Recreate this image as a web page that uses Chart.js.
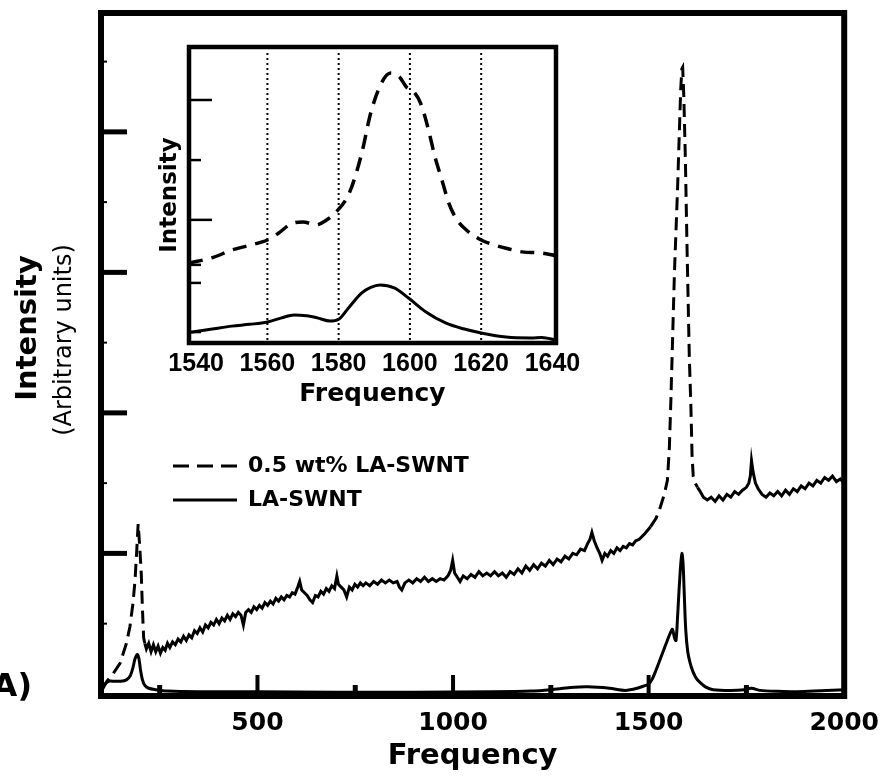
<!DOCTYPE html>
<html>
<head>
<meta charset="utf-8">
<script src="https://cdn.jsdelivr.net/npm/chart.js@4.4.1/dist/chart.umd.min.js"></script>
<style>
  html, body { margin: 0; padding: 0; background: #fff; }
  #wrap { position: relative; width: 891px; height: 778px; }
  #main { position: absolute; left: 0; top: 0; }
  #inset { position: absolute; left: 100px; top: 20px; }
</style>
</head>
<body>
<div id="wrap">
  <canvas id="main" width="891" height="778"></canvas>
  <canvas id="inset" width="500" height="400"></canvas>
</div>
<script>
// ---- data: [frequency, intensity] ----
const seriesLabels = ['0.5 wt% LA-SWNT', 'LA-SWNT'];

const dashedMain = [
  [103,0.03],[115,0.09],[130,0.14],[149,0.22],[165,0.36],[174,0.48],[182,0.65],[187,0.81],
  [191,1.0],[195,1.21],[199,1.05],[203,0.85],[206,0.6],[209,0.40],
  [212,0.36],[216,0.32],[222,0.36],[228,0.30],[234,0.35],[240,0.30],[246,0.34],[252,0.29],
  [258,0.33],[264,0.31],[270,0.36],[276,0.33],[283,0.37],[290,0.35],[297,0.39],[304,0.37],
  [311,0.41],[318,0.38],[325,0.42],[332,0.40],[339,0.45],[346,0.43],[353,0.47],[360,0.44],
  [367,0.49],[374,0.47],[381,0.51],[388,0.49],[395,0.53],[402,0.50],[409,0.54],[416,0.52],
  [423,0.56],[430,0.53],[437,0.57],[444,0.55],[451,0.58],[458,0.56],[464,0.49],[470,0.58],
  [477,0.60],[484,0.58],[491,0.62],[498,0.60],[505,0.63],[512,0.61],[519,0.65],[526,0.63],
  [533,0.66],[540,0.64],[547,0.68],[554,0.66],[561,0.69],[568,0.67],[575,0.70],[582,0.69],
  [589,0.72],[596,0.71],[603,0.76],[608,0.80],[613,0.74],[620,0.72],[627,0.70],[634,0.67],
  [641,0.65],[648,0.70],[655,0.69],[662,0.73],[669,0.71],[676,0.75],[683,0.73],[690,0.77],
  [697,0.75],[703,0.84],[707,0.78],[714,0.76],[721,0.74],[728,0.69],[735,0.76],[742,0.74],
  [749,0.78],[756,0.76],[763,0.79],[770,0.77],[777,0.79],[787,0.77],[797,0.80],[807,0.78],
  [817,0.81],[827,0.79],[837,0.81],[847,0.79],[857,0.80],[863,0.76],[869,0.74],[877,0.79],
  [887,0.81],[897,0.79],[907,0.82],[917,0.80],[927,0.83],[937,0.80],[947,0.82],[957,0.80],
  [967,0.82],[977,0.81],[987,0.84],[994,0.88],[999,0.95],[1004,0.86],[1011,0.83],[1018,0.80],
  [1026,0.84],[1036,0.82],[1046,0.85],[1056,0.83],[1066,0.87],[1076,0.84],[1086,0.86],[1096,0.84],
  [1106,0.87],[1116,0.84],[1126,0.86],[1136,0.83],[1146,0.87],[1156,0.85],[1166,0.89],[1176,0.86],
  [1186,0.91],[1196,0.88],[1206,0.92],[1216,0.89],[1226,0.93],[1236,0.91],[1246,0.95],[1256,0.92],
  [1266,0.96],[1276,0.94],[1286,0.98],[1296,0.96],[1306,1.00],[1316,0.99],[1326,1.03],[1336,1.02],
  [1344,1.07],[1350,1.10],[1355,1.15],[1361,1.09],[1368,1.04],[1375,1.00],[1381,0.95],[1388,1.00],
  [1395,0.98],[1403,1.02],[1411,1.00],[1419,1.04],[1427,1.02],[1435,1.05],[1443,1.04],[1451,1.07],
  [1459,1.06],[1467,1.09],[1476,1.10],[1490,1.14],[1505,1.19],[1519,1.25],[1530,1.33],[1540,1.42],
  [1548,1.52],[1553,1.75],[1557,2.1],[1562,2.6],[1566,3.0],[1570,3.3],[1574,3.6],[1578,3.95],
  [1582,4.3],[1585,4.45],[1587,4.46],[1590,4.25],[1594,3.8],[1598,3.2],[1601,2.8],[1604,2.4],
  [1608,2.05],[1611,1.7],[1614,1.55],[1619,1.50],[1625,1.47],[1632,1.44],[1640,1.40],[1650,1.38],
  [1660,1.40],[1670,1.37],[1680,1.41],[1690,1.38],[1700,1.42],[1710,1.40],[1720,1.44],[1730,1.42],
  [1740,1.45],[1750,1.47],[1756,1.50],[1760,1.55],[1763,1.66],[1767,1.58],[1773,1.50],[1780,1.46],
  [1790,1.42],[1800,1.40],[1810,1.43],[1820,1.41],[1830,1.44],[1840,1.41],[1850,1.45],[1860,1.42],
  [1870,1.46],[1880,1.44],[1890,1.48],[1900,1.46],[1910,1.50],[1920,1.48],[1930,1.52],[1940,1.50],
  [1950,1.54],[1960,1.52],[1970,1.55],[1980,1.51],[1990,1.53],[2000,1.50]
];

const solidMain = [
  [102,0.03],[110,0.07],[120,0.09],[135,0.09],[150,0.09],[165,0.10],[175,0.13],[182,0.19],
  [187,0.25],[193,0.28],[197,0.25],[201,0.17],[206,0.10],[212,0.06],[222,0.04],[240,0.03],
  [270,0.02],[350,0.015],[500,0.015],[700,0.012],[900,0.012],[1100,0.015],[1200,0.02],[1250,0.03],
  [1300,0.045],[1345,0.05],[1400,0.04],[1440,0.025],[1470,0.04],[1500,0.07],[1510,0.11],[1519,0.17],
  [1530,0.25],[1545,0.36],[1555,0.43],[1561,0.46],[1566,0.40],[1570,0.38],[1574,0.55],[1578,0.75],
  [1582,0.92],[1585,1.0],[1588,0.93],[1591,0.72],[1595,0.45],[1600,0.30],[1606,0.22],[1613,0.16],
  [1622,0.11],[1632,0.08],[1645,0.05],[1665,0.03],[1710,0.025],[1745,0.03],[1763,0.04],[1785,0.025],
  [1830,0.018],[1880,0.015],[1940,0.022],[2000,0.03]
];

const dashedInset = [
  [1538,2.70],[1545,2.90],[1550,3.14],[1555,3.30],[1560,3.48],[1563,3.70],[1566.6,4.02],[1570,4.09],
  [1573.7,3.99],[1576.5,4.15],[1579,4.39],[1583,5.07],[1586.5,6.42],[1589,7.77],[1592,8.78],[1594.6,9.12],
  [1597,9.0],[1599,8.65],[1601,8.5],[1603,8.1],[1605,7.3],[1607,6.3],[1609,5.5],[1611,4.7],
  [1613,4.2],[1616,3.8],[1620,3.48],[1624,3.3],[1627,3.2],[1632,3.07],[1636,3.05],[1641,2.95]
];

const solidInset = [
  [1538,0.35],[1545,0.48],[1550,0.57],[1555,0.63],[1560,0.71],[1564,0.85],[1567.5,0.95],[1571,0.92],
  [1574,0.85],[1577.6,0.74],[1580,0.80],[1583,1.22],[1586.5,1.69],[1589,1.88],[1591.6,1.96],[1595.6,1.86],
  [1599.6,1.52],[1604.5,1.05],[1610,0.68],[1615,0.48],[1620,0.34],[1627,0.20],[1634,0.17],[1637,0.19],
  [1641,0.10]
];

// ticks
const mainXLabels = [500, 1000, 1500, 2000];
const mainXMajor = [500, 1000, 1500];
const mainXMinor = [250, 750, 1250, 1750];
const mainYMajor = [1, 2, 3, 4];
const mainYMinor = [0.5, 1.5, 2.5, 3.5, 4.5];
const insetXLabels = [1540, 1560, 1580, 1600, 1620, 1640];
const insetGrid = [1560, 1580, 1600, 1620];
const insetYLong = [4.16, 8.21];
const insetYShort = [0.37, 2.03, 2.64, 6.18];

const toXY = arr => arr.map(p => ({ x: p[0], y: p[1] }));
const plain = v => String(v);
const FONT = 'DejaVu Sans';

// ---- main chart ----
const mainDecor = {
  id: 'mainDecor',
  afterDraw(chart) {
    const { ctx, chartArea: a, scales: { x, y } } = chart;
    ctx.save();
    ctx.strokeStyle = '#000';
    ctx.fillStyle = '#000';
    ctx.setLineDash([]);

    const xTick = (v, len, w) => {
      const px = x.getPixelForValue(v);
      ctx.lineWidth = w;
      ctx.beginPath(); ctx.moveTo(px, a.bottom); ctx.lineTo(px, a.bottom - len); ctx.stroke();
    };
    const yTick = (v, len, w) => {
      const py = y.getPixelForValue(v);
      ctx.lineWidth = w;
      ctx.beginPath(); ctx.moveTo(a.left, py); ctx.lineTo(a.left + len, py); ctx.stroke();
    };
    mainXMajor.forEach(v => xTick(v, 21, 4));
    mainXMinor.forEach(v => xTick(v, 11, 5));
    mainYMajor.forEach(v => yTick(v, 26, 5));
    mainYMinor.forEach(v => yTick(v, 6, 2));

    ctx.lineWidth = 6;
    ctx.strokeRect(a.left, a.top, a.right - a.left, a.bottom - a.top);

    // legend
    ctx.lineWidth = 3;
    ctx.setLineDash([16, 8]);
    ctx.beginPath(); ctx.moveTo(173, 466); ctx.lineTo(237, 466); ctx.stroke();
    ctx.setLineDash([]);
    ctx.beginPath(); ctx.moveTo(173, 500); ctx.lineTo(237, 500); ctx.stroke();
    ctx.font = 'bold 22px "' + FONT + '"';
    ctx.textAlign = 'left';
    ctx.textBaseline = 'middle';
    ctx.fillText(chart.data.datasets[0].label, 248, 466);
    ctx.fillText(chart.data.datasets[1].label, 248, 500);

    // y titles
    ctx.save();
    ctx.translate(28, 328);
    ctx.rotate(-Math.PI / 2);
    ctx.textAlign = 'center';
    ctx.font = 'bold 29px "' + FONT + '"';
    ctx.fillText('Intensity', 0, 0);
    ctx.restore();
    ctx.save();
    ctx.translate(65, 340);
    ctx.rotate(-Math.PI / 2);
    ctx.textAlign = 'center';
    ctx.font = '24px "' + FONT + '"';
    ctx.fillText('(Arbitrary units)', 0, 0);
    ctx.restore();

    ctx.font = 'bold 32px "' + FONT + '"';
    ctx.textAlign = 'right';
    ctx.fillText('(A)', 32, 688);
    ctx.restore();
  }
};

new Chart(document.getElementById('main'), {
  type: 'line',
  data: {
    datasets: [{
      label: seriesLabels[0],
      data: toXY(dashedMain),
      borderColor: '#000',
      borderWidth: 3,
      pointRadius: 0,
      tension: 0,
      segment: {
        borderDash: c => (c.p0.parsed.x < 212 || (c.p0.parsed.x >= 1500 && c.p0.parsed.x < 1625)) ? [13, 7] : []
      }
    }, {
      label: seriesLabels[1],
      data: toXY(solidMain),
      borderColor: '#000',
      borderWidth: 3,
      pointRadius: 0,
      tension: 0.3
    }]
  },
  options: {
    responsive: false,
    animation: false,
    layout: { padding: { top: 13, right: 46, left: 0, bottom: 0 } },
    plugins: { legend: { display: false }, tooltip: { enabled: false } },
    scales: {
      x: {
        type: 'linear',
        min: 100,
        max: 2000,
        afterBuildTicks: s => { s.ticks = mainXLabels.map(v => ({ value: v })); },
        afterFit: s => { s.height = 82; },
        grid: { display: false, drawTicks: false },
        border: { display: false },
        ticks: { color: '#000', padding: 12, maxRotation: 0, callback: plain,
                 font: { family: FONT, size: 25, weight: 'bold' } },
        title: { display: true, text: 'Frequency', color: '#000', padding: { top: 0, bottom: 4 },
                 font: { family: FONT, size: 29, weight: 'bold' } }
      },
      y: {
        type: 'linear',
        min: -0.015,
        max: 4.846,
        afterFit: s => { s.width = 101; },
        grid: { display: false, drawTicks: false },
        border: { display: false },
        ticks: { display: false }
      }
    }
  },
  plugins: [mainDecor]
});

// ---- inset chart ----
const insetDecor = {
  id: 'insetDecor',
  afterDraw(chart) {
    const { ctx, chartArea: a, scales: { x, y } } = chart;
    ctx.save();
    ctx.strokeStyle = '#000';
    ctx.lineWidth = 2;
    ctx.setLineDash([2, 3]);
    insetGrid.forEach(v => {
      const px = x.getPixelForValue(v);
      ctx.beginPath(); ctx.moveTo(px, a.top + 6); ctx.lineTo(px, a.bottom); ctx.stroke();
    });
    ctx.setLineDash([]);
    ctx.lineWidth = 2.5;
    const yTick = (v, len) => {
      const py = y.getPixelForValue(v);
      ctx.beginPath(); ctx.moveTo(a.left, py); ctx.lineTo(a.left + len, py); ctx.stroke();
    };
    insetYLong.forEach(v => yTick(v, 23));
    insetYShort.forEach(v => yTick(v, 12));
    ctx.lineWidth = 4.5;
    ctx.strokeRect(a.left, a.top, a.right - a.left, a.bottom - a.top);
    ctx.restore();
  }
};

new Chart(document.getElementById('inset'), {
  type: 'line',
  data: {
    datasets: [{
      label: seriesLabels[0],
      data: toXY(dashedInset),
      borderColor: '#000',
      borderWidth: 3.5,
      borderDash: [14, 9],
      pointRadius: 0,
      cubicInterpolationMode: 'monotone'
    }, {
      label: seriesLabels[1],
      data: toXY(solidInset),
      borderColor: '#000',
      borderWidth: 3,
      pointRadius: 0,
      cubicInterpolationMode: 'monotone'
    }]
  },
  options: {
    responsive: false,
    animation: false,
    layout: { padding: { top: 27, right: 44, left: 0, bottom: 0 } },
    plugins: { legend: { display: false }, tooltip: { enabled: false } },
    scales: {
      x: {
        type: 'linear',
        min: 1538,
        max: 1641,
        afterBuildTicks: s => { s.ticks = insetXLabels.map(v => ({ value: v })); },
        afterFit: s => { s.height = 77; },
        grid: { display: false, drawTicks: false },
        border: { display: false },
        ticks: { color: '#000', padding: 6, maxRotation: 0, autoSkip: false, callback: plain,
                 font: { family: "'Liberation Sans Narrow', 'Liberation Sans'", size: 25, weight: 'bold' } },
        title: { display: true, text: 'Frequency', color: '#000', padding: { top: 0, bottom: 11 },
                 font: { family: FONT, size: 25, weight: 'bold' } }
      },
      y: {
        type: 'linear',
        min: 0,
        max: 10,
        afterFit: s => { s.width = 89; },
        grid: { display: false, drawTicks: false },
        border: { display: false },
        ticks: { display: false },
        title: { display: true, text: 'Intensity', color: '#000', padding: { top: 56, bottom: 0 },
                 font: { family: FONT, size: 23, weight: 'bold' } }
      }
    }
  },
  plugins: [insetDecor]
});
</script>
</body>
</html>
